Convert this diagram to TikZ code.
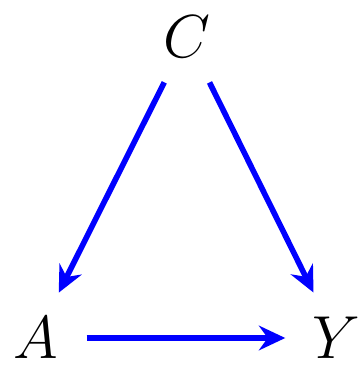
\documentclass[tikz,border=0pt]{standalone}
\usetikzlibrary{arrows.meta}

\begin{document}
\begin{tikzpicture}[
    var/.style={circle, minimum size=1cm, inner sep=0pt, font=\fontsize{18.5}{20}\selectfont},
    arrow/.style={-{Stealth[length=7.5pt, width=7pt, inset=2.5pt]}, line width=1.6pt, draw=blue}
]

\useasboundingbox (0, 0) rectangle (3.64, 3.81);

% Variables
\node[var] (C) at (1.87, 3.44) {$C$};
\node[var] (A) at (0.36, 0.43) {$A$};
\node[var] (Y) at (3.36, 0.43) {$Y$};

% Arrows
\draw[arrow] (C) -- (A);
\draw[arrow] (C) -- (Y);
\draw[arrow] (A) -- (Y);

\end{tikzpicture}
\end{document}
